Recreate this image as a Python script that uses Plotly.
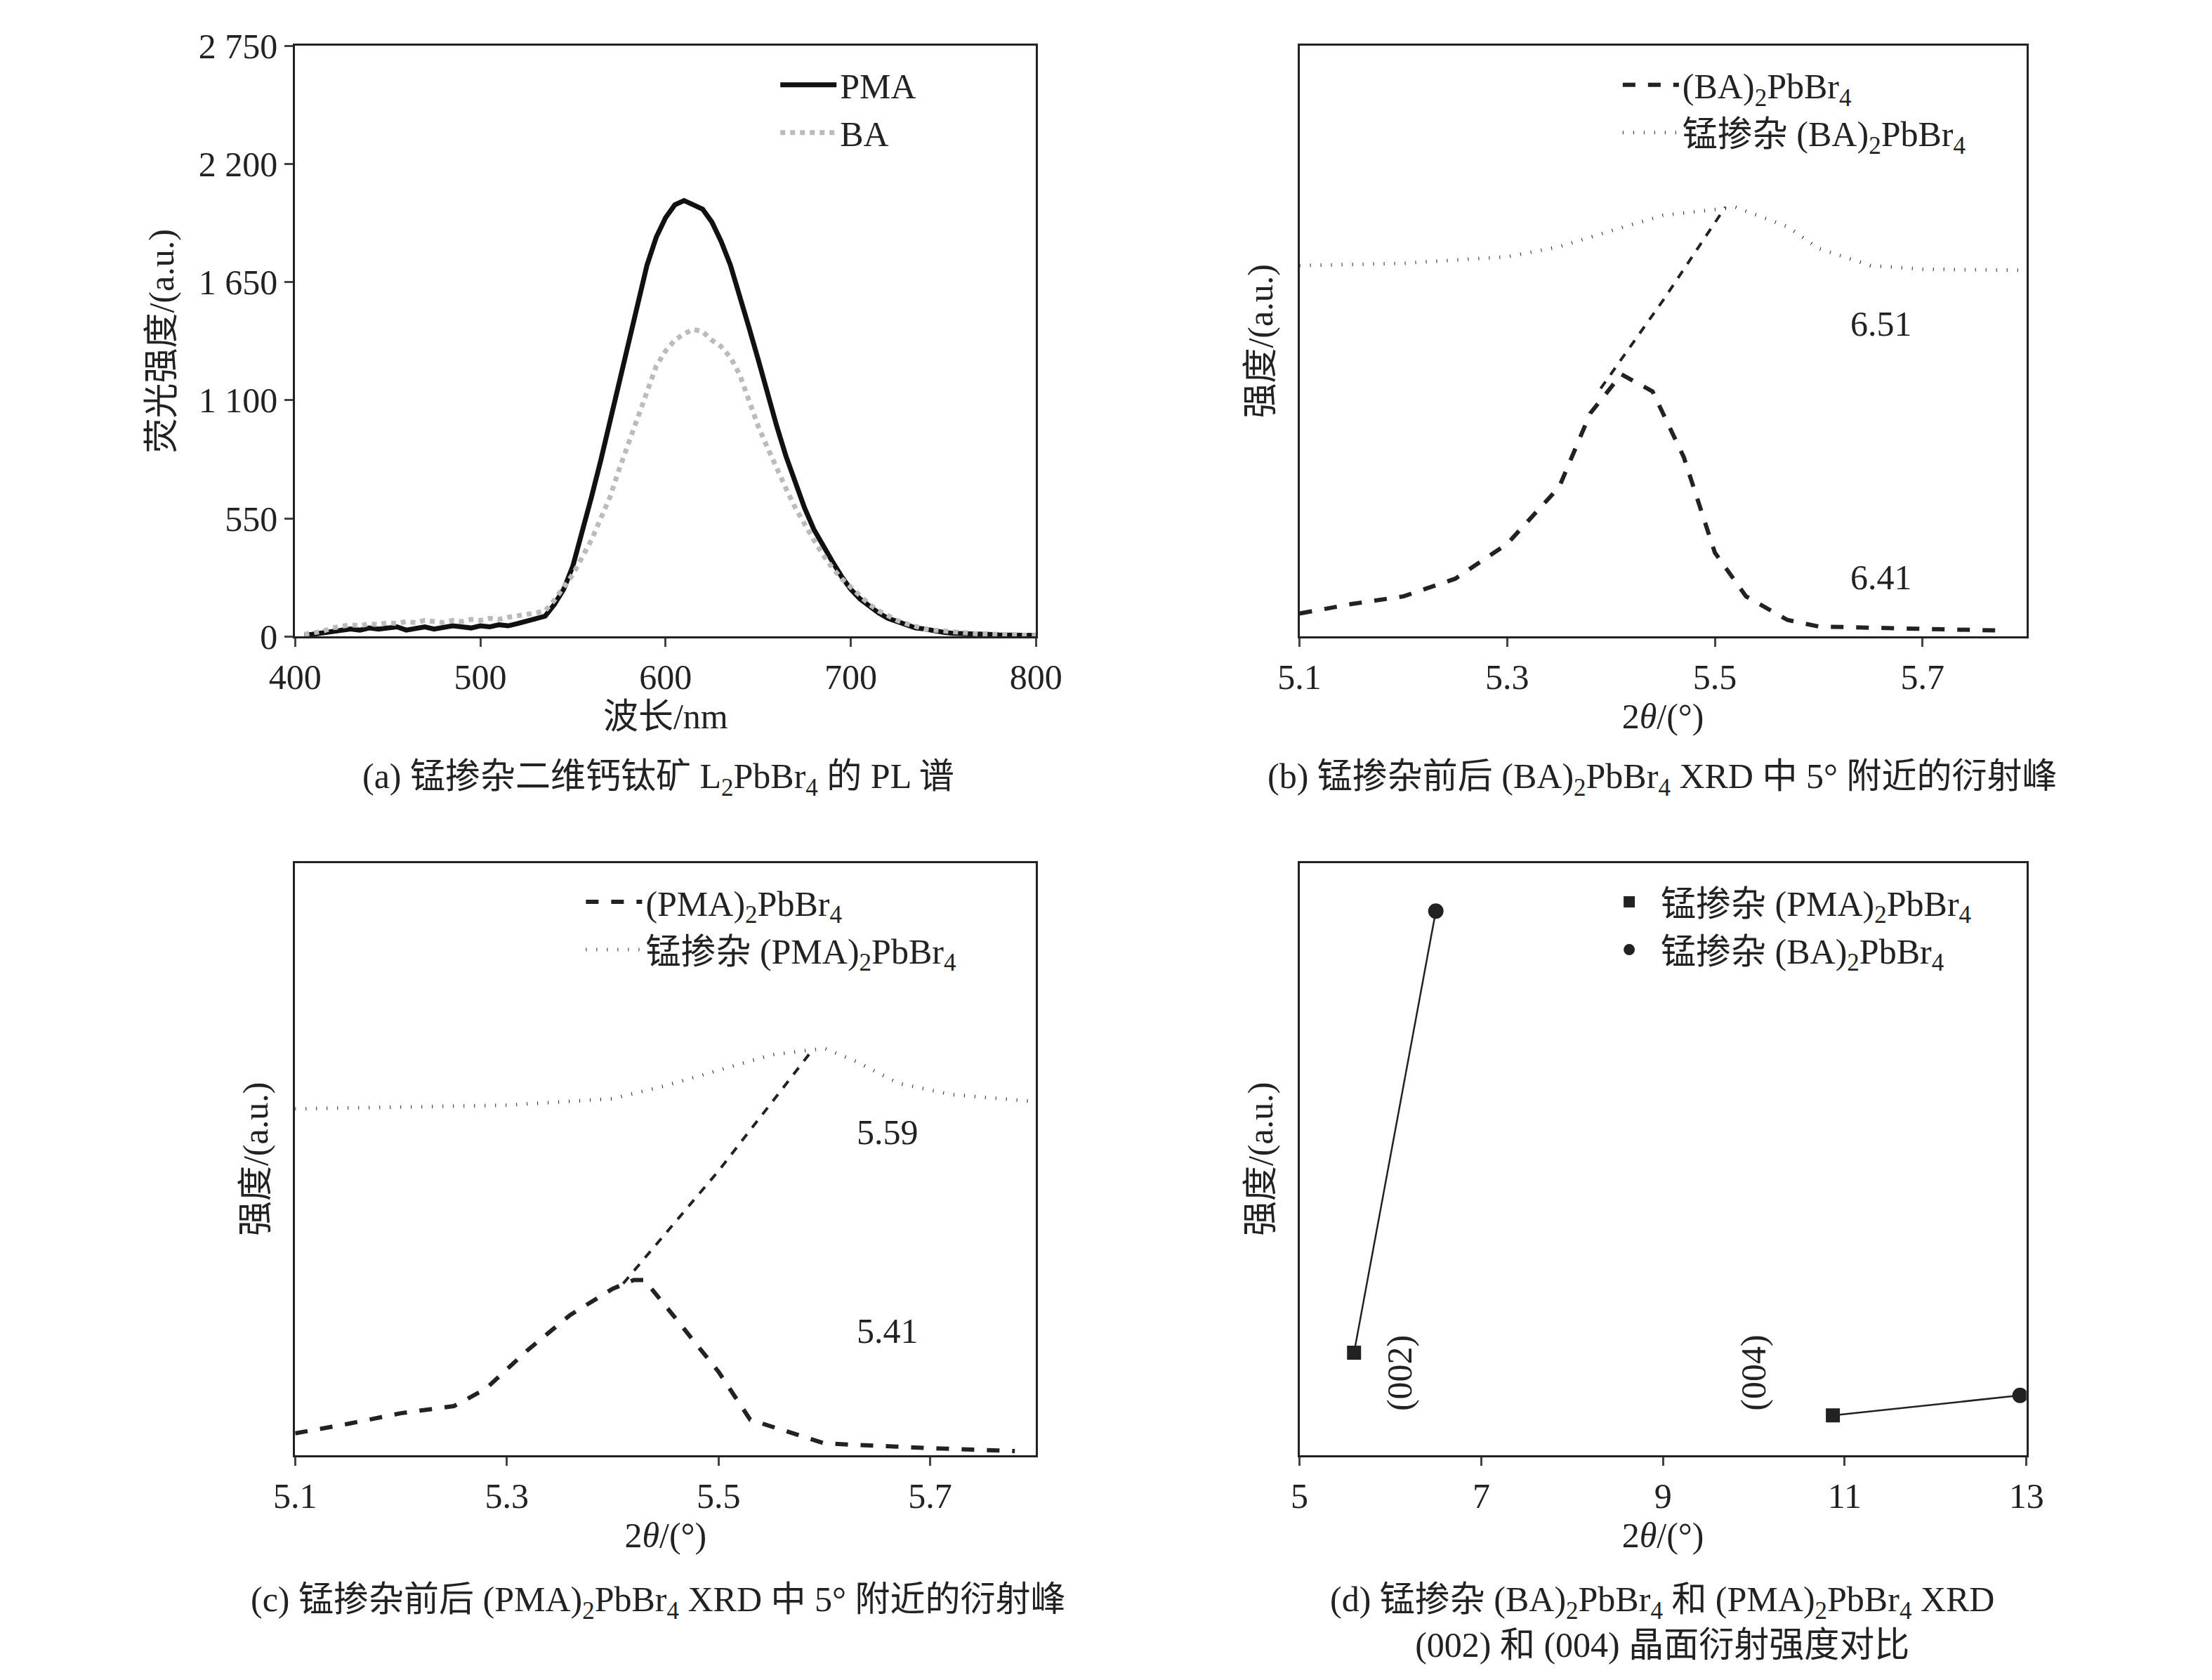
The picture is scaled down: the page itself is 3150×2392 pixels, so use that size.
import plotly.graph_objects as go

# ---------- data ----------
wl = list(range(405, 805, 5))
pl_pma = [5,10,15,20,30,35,30,40,35,40,45,30,40,45,35,40,50,45,40,50,45,55,50,60,70,80,95,150,220,330,480,650,
          820,1000,1180,1370,1560,1730,1860,1950,2010,2030,2010,1990,1930,1840,1730,1590,1440,1290,1130,980,840,720,
          600,500,420,350,280,220,175,140,110,85,70,55,40,35,25,20,15,15,12,10,10,8,8,6,5,5]
pl_ba = [10,15,25,40,50,55,50,60,55,65,60,70,65,75,70,65,75,70,80,75,85,80,90,95,100,110,120,170,230,290,370,450,
         550,650,780,900,1030,1150,1260,1330,1380,1410,1430,1420,1380,1350,1300,1220,1100,980,880,780,690,600,
         520,450,380,320,270,230,190,150,120,95,75,60,45,35,30,25,20,18,15,12,10,10,8,8,6,5]

b_pure_x = [5.10,5.15,5.20,5.25,5.30,5.35,5.38,5.41,5.44,5.47,5.50,5.53,5.57,5.60,5.70,5.78]
b_pure_y = [0.039,0.055,0.068,0.098,0.157,0.253,0.378,0.444,0.415,0.304,0.142,0.068,0.028,0.017,0.013,0.01]
b_rise_x = [5.39,5.45,5.51]
b_rise_y = [0.42,0.569,0.727]
b_dop_x = [5.10,5.20,5.30,5.35,5.40,5.45,5.52,5.57,5.60,5.65,5.70,5.80]
b_dop_y = [0.628,0.632,0.643,0.66,0.687,0.713,0.727,0.694,0.657,0.628,0.622,0.62]

c_pure_x = [5.10,5.15,5.20,5.25,5.28,5.32,5.36,5.40,5.42,5.43,5.46,5.50,5.53,5.57,5.60,5.70,5.78]
c_pure_y = [0.037,0.053,0.071,0.083,0.112,0.178,0.237,0.281,0.296,0.296,0.23,0.141,0.06,0.038,0.02,0.012,0.007]
c_rise_x = [5.41,5.50,5.59]
c_rise_y = [0.29,0.48,0.687]
c_dop_x = [5.10,5.20,5.30,5.40,5.45,5.50,5.55,5.60,5.63,5.67,5.72,5.80]
c_dop_y = [0.585,0.588,0.591,0.602,0.624,0.65,0.676,0.687,0.665,0.628,0.609,0.597]

d_002_x = [5.6, 6.5]
d_002_y = [0.175, 0.928]
d_004_x = [10.87, 12.93]
d_004_y = [0.068, 0.102]

FONT = "Liberation Serif, Noto Sans CJK SC"
FS = 50
fig = go.Figure()

# (a)
fig.add_trace(go.Scatter(x=wl, y=pl_pma, mode="lines", name="PMA", line=dict(color="#111", width=7),
                         xaxis="x", yaxis="y", legend="legend"))
fig.add_trace(go.Scatter(x=wl, y=pl_ba, mode="lines", name="BA", line=dict(color="#bbb", width=7, dash="dot"),
                         xaxis="x", yaxis="y", legend="legend"))
# (b)
fig.add_trace(go.Scatter(x=b_pure_x, y=b_pure_y, mode="lines", name="(BA)<sub>2</sub>PbBr<sub>4</sub>",
                         line=dict(color="#222", width=6, dash="dash"), xaxis="x2", yaxis="y2", legend="legend2"))
fig.add_trace(go.Scatter(x=b_rise_x, y=b_rise_y, mode="lines", showlegend=False,
                         line=dict(color="#222", width=4, dash="dash"), xaxis="x2", yaxis="y2"))
fig.add_trace(go.Scatter(x=b_dop_x, y=b_dop_y, mode="lines", name="锰掺杂 (BA)<sub>2</sub>PbBr<sub>4</sub>",
                         line=dict(color="#222", width=5, dash="1px,14px"), xaxis="x2", yaxis="y2", legend="legend2"))
# (c)
fig.add_trace(go.Scatter(x=c_pure_x, y=c_pure_y, mode="lines", name="(PMA)<sub>2</sub>PbBr<sub>4</sub>",
                         line=dict(color="#222", width=6, dash="dash"), xaxis="x3", yaxis="y3", legend="legend3"))
fig.add_trace(go.Scatter(x=c_rise_x, y=c_rise_y, mode="lines", showlegend=False,
                         line=dict(color="#222", width=4, dash="dash"), xaxis="x3", yaxis="y3"))
fig.add_trace(go.Scatter(x=c_dop_x, y=c_dop_y, mode="lines", name="锰掺杂 (PMA)<sub>2</sub>PbBr<sub>4</sub>",
                         line=dict(color="#222", width=5, dash="1px,14px"), xaxis="x3", yaxis="y3", legend="legend3"))
# (d)
for xs, ys in [(d_002_x, d_002_y), (d_004_x, d_004_y)]:
    fig.add_trace(go.Scatter(x=xs, y=ys, mode="lines", showlegend=False, line=dict(color="#222", width=2.5),
                             xaxis="x4", yaxis="y4"))
fig.add_trace(go.Scatter(x=[d_002_x[0], d_004_x[0]], y=[d_002_y[0], d_004_y[0]], mode="markers",
                         name="锰掺杂 (PMA)<sub>2</sub>PbBr<sub>4</sub>", marker=dict(symbol="square", size=20, color="#222"),
                         xaxis="x4", yaxis="y4", legend="legend4"))
fig.add_trace(go.Scatter(x=[d_002_x[1], d_004_x[1]], y=[d_002_y[1], d_004_y[1]], mode="markers",
                         name="锰掺杂 (BA)<sub>2</sub>PbBr<sub>4</sub>", marker=dict(symbol="circle", size=22, color="#222"),
                         xaxis="x4", yaxis="y4", legend="legend4"))

ax = dict(showline=True, mirror=True, linecolor="#222", linewidth=3, ticks="outside", ticklen=12, tickwidth=3,
          showgrid=False, zeroline=False, tickfont=dict(size=FS, family=FONT, color="#222"))
def xa(dom, anchor, rng, dt, title):
    return dict(ax, domain=dom, anchor=anchor, range=rng, dtick=dt, tick0=rng[0],
                title=dict(text=title, font=dict(size=FS), standoff=10))
def ya(dom, anchor, title, rng=[0, 1], **kw):
    return dict(ax, domain=dom, anchor=anchor, range=rng, title=dict(text=title, font=dict(size=FS), standoff=20), **kw)

xd1, xd2 = [0.122, 0.465], [0.587, 0.9235]
yd1, yd2 = [0.627, 0.987], [0.128, 0.489]
th = "2<i>θ</i>/(°)"
leg = dict(bgcolor="rgba(0,0,0,0)", font=dict(size=FS, family=FONT, color="#222"), xanchor="left", yanchor="top",
           tracegroupgap=0, itemwidth=80)
fig.update_layout(
    width=3150, height=2392, margin=dict(l=0, r=0, t=0, b=0), plot_bgcolor="white", paper_bgcolor="white",
    font=dict(family=FONT, size=FS, color="#222"),
    xaxis=xa(xd1, "y", [400, 800], 100, "波长/nm"),
    yaxis=ya(yd1, "x", "荧光强度/(a.u.)", rng=[0, 2750], tickvals=[0, 550, 1100, 1650, 2200, 2750],
             ticktext=["0", "550", "1 100", "1 650", "2 200", "2 750"]),
    xaxis2=xa(xd2, "y2", [5.1, 5.8], 0.2, th),
    yaxis2=ya(yd1, "x2", "强度/(a.u.)", showticklabels=False, ticks=""),
    xaxis3=xa(xd1, "y3", [5.1, 5.8], 0.2, th),
    yaxis3=ya(yd2, "x3", "强度/(a.u.)", showticklabels=False, ticks=""),
    xaxis4=xa(xd2, "y4", [5, 13], 2, th),
    yaxis4=ya(yd2, "x4", "强度/(a.u.)", showticklabels=False, ticks="", rng=[0, 1.01]),
    legend=dict(leg, x=0.345, y=0.98),
    legend2=dict(leg, x=0.735, y=0.98),
    legend3=dict(leg, x=0.255, y=0.482),
    legend4=dict(leg, x=0.725, y=0.482),
)
ann = [
    ("x2", "y2", 5.66, 0.53, "6.51", 0), ("x2", "y2", 5.66, 0.1, "6.41", 0),
    ("x3", "y3", 5.66, 0.545, "5.59", 0), ("x3", "y3", 5.66, 0.21, "5.41", 0),
    ("x4", "y4", 6.1, 0.14, "(002)", -90), ("x4", "y4", 10.0, 0.14, "(004)", -90),
]
for xr, yr, x, y, t, rot in ann:
    fig.add_annotation(xref=xr, yref=yr, x=x, y=y, text=t, showarrow=False, textangle=rot, font=dict(size=FS))
caps = [
    (0.29, 0.555, "(a) 锰掺杂二维钙钛矿 L<sub>2</sub>PbBr<sub>4</sub> 的 PL 谱"),
    (0.755, 0.555, "(b) 锰掺杂前后 (BA)<sub>2</sub>PbBr<sub>4</sub> XRD 中 5° 附近的衍射峰"),
    (0.29, 0.053, "(c) 锰掺杂前后 (PMA)<sub>2</sub>PbBr<sub>4</sub> XRD 中 5° 附近的衍射峰"),
    (0.755, 0.053, "(d) 锰掺杂 (BA)<sub>2</sub>PbBr<sub>4</sub> 和 (PMA)<sub>2</sub>PbBr<sub>4</sub> XRD<br>(002) 和 (004) 晶面衍射强度对比"),
]
for x, y, t in caps:
    fig.add_annotation(xref="paper", yref="paper", x=x, y=y, text=t, showarrow=False, xanchor="center",
                       yanchor="top", font=dict(size=FS))
fig.write_html("out.html")
